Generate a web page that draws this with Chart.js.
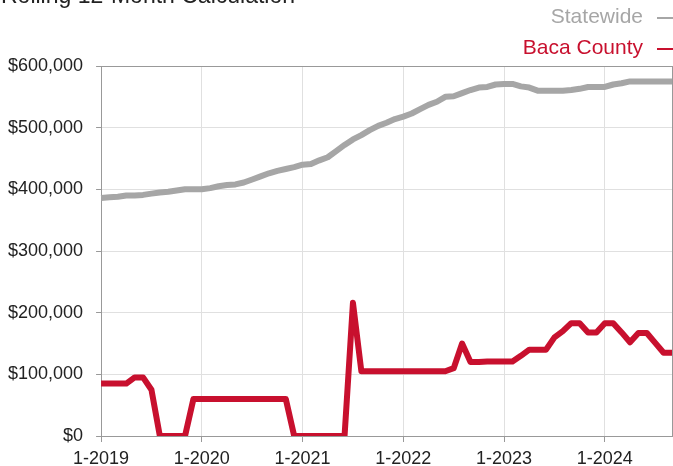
<!DOCTYPE html>
<html>
<head>
<meta charset="utf-8">
<script src="https://cdn.jsdelivr.net/npm/chart.js@4.4.1/dist/chart.umd.min.js"></script>
<style>
  html, body { margin: 0; padding: 0; background: #fff; }
  #wrap { width: 673px; height: 466px; position: relative; }
</style>
</head>
<body>
<div id="wrap"><canvas id="c" width="673" height="466"></canvas></div>
<script>
const chartTitle = 'Rolling 12-Month Calculation';
const months = [
  '1-2019','2-2019','3-2019','4-2019','5-2019','6-2019','7-2019','8-2019','9-2019','10-2019','11-2019','12-2019',
  '1-2020','2-2020','3-2020','4-2020','5-2020','6-2020','7-2020','8-2020','9-2020','10-2020','11-2020','12-2020',
  '1-2021','2-2021','3-2021','4-2021','5-2021','6-2021','7-2021','8-2021','9-2021','10-2021','11-2021','12-2021',
  '1-2022','2-2022','3-2022','4-2022','5-2022','6-2022','7-2022','8-2022','9-2022','10-2022','11-2022','12-2022',
  '1-2023','2-2023','3-2023','4-2023','5-2023','6-2023','7-2023','8-2023','9-2023','10-2023','11-2023','12-2023',
  '1-2024','2-2024','3-2024','4-2024','5-2024','6-2024','7-2024','8-2024','9-2024'
];
const xTickLabels = ['1-2019','1-2020','1-2021','1-2022','1-2023','1-2024'];
const yTickValues = [0, 100000, 200000, 300000, 400000, 500000, 600000];

const statewide = [
  386000,387000,388000,390000,390000,391000,393000,395000,396000,398000,400000,400000,
  400000,402000,405000,407000,408000,411000,416000,421000,426000,430000,433000,436000,
  440000,441000,447000,452000,462000,472000,481000,488000,496000,503000,508000,514000,
  518000,523000,530000,537000,542000,550000,551000,556000,561000,565000,566000,570000,
  571000,571000,567000,565000,560000,560000,560000,560000,561000,563000,566000,566000,
  566000,570000,572000,575000,575000,575000,575000,575000,575000
];
const baca = [
  85000,85000,85000,85000,95000,95000,75000,0,0,0,0,60000,
  60000,60000,60000,60000,60000,60000,60000,60000,60000,60000,60000,0,
  0,0,0,0,0,0,216000,105000,105000,105000,105000,105000,
  105000,105000,105000,105000,105000,105000,110000,150000,120000,120000,121000,121000,
  121000,121000,130000,140000,140000,140000,160000,170000,183000,183000,168000,168000,
  183000,183000,168000,152000,167000,167000,151000,135000,135000
];

const GRAY = '#a6a6a6';
const RED = '#c8102e';
const FONT = '"Liberation Sans", Arial, Helvetica, sans-serif';

const overlay = {
  id: 'overlay',
  afterDraw(chart) {
    const ctx = chart.ctx;
    ctx.save();
    ctx.fillStyle = '#222';
    ctx.font = '23px ' + FONT;
    ctx.textAlign = 'left';
    ctx.textBaseline = 'alphabetic';
    ctx.fillText(chartTitle, 1, 3);
    const rows = [17, 48];
    chart.data.datasets.forEach((ds, i) => {
      ctx.font = '21px ' + FONT;
      ctx.textAlign = 'right';
      ctx.textBaseline = 'middle';
      ctx.fillStyle = ds.borderColor;
      ctx.fillText(ds.label, 643, rows[i]);
      ctx.strokeStyle = ds.borderColor;
      ctx.lineWidth = 2;
      ctx.beginPath();
      ctx.moveTo(657, rows[i] + 1);
      ctx.lineTo(673, rows[i] + 1);
      ctx.stroke();
    });
    ctx.restore();
  }
};

new Chart(document.getElementById('c'), {
  type: 'line',
  data: {
    labels: months,
    datasets: [
      { label: 'Statewide', data: statewide, borderColor: GRAY, backgroundColor: GRAY,
        borderWidth: 6, pointRadius: 0, tension: 0, borderJoinStyle: 'round' },
      { label: 'Baca County', data: baca, borderColor: RED, backgroundColor: RED,
        borderWidth: 6, pointRadius: 0, tension: 0, borderJoinStyle: 'round' }
    ]
  },
  options: {
    responsive: false,
    animation: false,
    devicePixelRatio: 1,
    layout: { padding: { top: 66, left: -5, right: 1, bottom: -10 } },
    plugins: { legend: { display: false }, tooltip: { enabled: false }, title: { display: false } },
    scales: {
      x: {
        type: 'category',
        offset: false,
        afterFit: s => { s.paddingRight = 0; s.paddingLeft = 0; },
        grid: {
          color: c => (xTickLabels.includes(months[c.index]) ? '#e0e0e0' : (c.index === months.length - 1 ? '#999' : 'rgba(0,0,0,0)')),
          tickColor: c => (xTickLabels.includes(months[c.index]) ? '#999' : 'rgba(0,0,0,0)'),
          tickLength: 6,
          drawOnChartArea: true
        },
        border: { color: '#999', width: 1 },
        ticks: {
          autoSkip: false,
          maxRotation: 0,
          minRotation: 0,
          padding: 8,
          color: '#222',
          font: { family: FONT, size: 18, lineHeight: 1 },
          callback: function(v, i) { return xTickLabels.includes(months[i]) ? months[i] : ''; }
        }
      },
      y: {
        min: 0,
        max: 600000,
        afterBuildTicks: axis => { axis.ticks = yTickValues.map(v => ({ value: v })); },
        afterFit: s => { s.paddingTop = 0; s.paddingBottom = 0; },
        grid: {
          color: c => (c.tick && c.tick.value === 600000 ? '#999' : '#e0e0e0'),
          tickColor: '#999',
          tickLength: 5
        },
        border: { color: '#999', width: 1 },
        ticks: {
          padding: 13,
          color: '#222',
          font: { family: FONT, size: 18 },
          callback: v => '$' + Number(v).toLocaleString('en-US')
        }
      }
    }
  },
  plugins: [overlay]
});
</script>
</body>
</html>
